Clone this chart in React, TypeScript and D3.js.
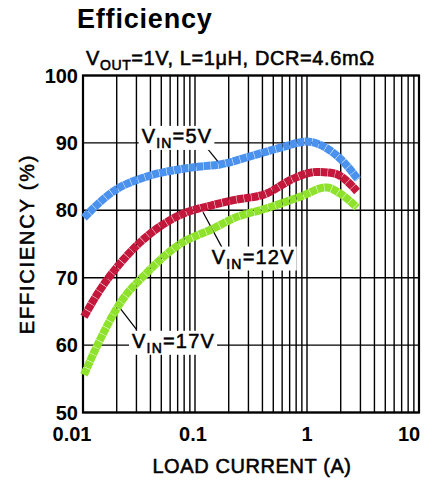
import React, { useLayoutEffect, useRef, useState } from 'react';
import * as d3 from 'd3';

const W = 441;
const H = 481;
const plot = { left: 83, right: 419, top: 75.5, bottom: 412.5 };
const FONT = 'Liberation Sans, Arial, Helvetica, sans-serif';

// load current (A) / efficiency (%)
const cur5 = [0.0102, 0.0186, 0.037, 0.0735, 0.111, 0.167, 0.31, 0.614, 0.99, 1.5, 2.11, 2.85];
const eff5 = [78.9, 82.8, 85.0, 86.1, 86.5, 86.8, 88.0, 89.4, 90.2, 89.2, 87.2, 84.6];

const cur12 = [0.0102, 0.0142, 0.0214, 0.037, 0.0735, 0.146, 0.22, 0.437, 0.755, 1.22, 1.72, 2.8];
const eff12 = [64.2, 68.2, 72.1, 76.1, 79.3, 80.8, 81.5, 82.5, 84.7, 85.7, 85.5, 82.8];

const cur17 = [0.0102, 0.0142, 0.0214, 0.037, 0.0735, 0.146, 0.22, 0.437, 0.866, 1.5, 1.97, 2.8];
const eff17 = [55.6, 60.8, 66.2, 70.7, 75.0, 77.3, 78.8, 80.3, 82.0, 83.4, 82.5, 80.4];

const seriesNames = ['5V', '12V', '17V'];
const seriesColors = ['#4b92ef', '#c3173c', '#8fe22c'];

const xTickValues = [0.01, 0.1, 1, 10];
const xTickLabels = ['0.01', '0.1', '1', '10'];
const xTickShift = [-11, -2, 0, -10];
const yTickValues = [50, 60, 70, 80, 90, 100];

// label anchor (current, eff) and leader line [from, to]
const labelPos = [
  { at: [0.0334, 90.0], lead: [[0.115, 90.2], [0.17, 86.7]] },
  { at: [0.141, 72.1], lead: [[0.118, 79.7], [0.174, 74.5]] },
  { at: [0.0274, 59.6], lead: [[0.0214, 65.5], [0.0301, 62.3]] },
];

const x = d3.scaleLog().domain([0.01, 10]).range([plot.left, plot.right]);
const y = d3.scaleLinear().domain([50, 100]).range([plot.bottom, plot.top]);

const line = d3
  .line<[number, number]>()
  .x((d) => x(d[0]))
  .y((d) => y(d[1]))
  .curve(d3.curveMonotoneX);

// slightly heavier than regular weight, like the original lettering
const semi = { stroke: '#000', strokeWidth: 0.55 };

const VinLabel = ({ px, py, name }: { px: number; py: number; name: string }) => {
  const ref = useRef<SVGTextElement>(null);
  const [box, setBox] = useState<DOMRect | null>(null);
  useLayoutEffect(() => {
    if (ref.current) setBox(ref.current.getBBox());
  }, []);
  return (
    <g>
      {box && (
        <rect x={box.x - 3} y={py - 17} width={box.width + 5} height={24} fill="#fff" />
      )}
      <text ref={ref} x={px} y={py} fontFamily={FONT} fontSize={20} letterSpacing={1.2} fill="#000" {...semi}>
        <tspan>V</tspan>
        <tspan fontSize={14} dy={5}>IN</tspan>
        <tspan dy={-5}>={name}</tspan>
      </text>
    </g>
  );
};

const App = () => {
  const data = [
    d3.zip(cur5, eff5) as [number, number][],
    d3.zip(cur12, eff12) as [number, number][],
    d3.zip(cur17, eff17) as [number, number][],
  ];
  const vGrid = x.ticks();
  return (
    <svg width={W} height={H} style={{ position: 'absolute', left: 0, top: 0, background: '#fff' }}>
      <text x={77} y={28} fontFamily={FONT} fontWeight="bold" fontSize={27} letterSpacing={0.8}>
        Efficiency
      </text>
      <text x={86} y={65} fontFamily={FONT} fontSize={20} letterSpacing={0.6} {...semi}>
        <tspan>V</tspan>
        <tspan fontSize={14} dy={5}>OUT</tspan>
        <tspan dy={-5}>=1V, L=1μH, DCR=4.6mΩ</tspan>
      </text>

      {vGrid.map((t, i) => (
        <line key={'v' + i} x1={x(t)} x2={x(t)} y1={plot.top} y2={plot.bottom} stroke="#000" strokeWidth={1.4} />
      ))}
      {yTickValues.map((t) => (
        <line key={'h' + t} x1={plot.left} x2={plot.right} y1={y(t)} y2={y(t)} stroke="#000" strokeWidth={1.4} />
      ))}
      <rect
        x={plot.left}
        y={plot.top}
        width={plot.right - plot.left}
        height={plot.bottom - plot.top}
        fill="none"
        stroke="#000"
        strokeWidth={2.2}
      />

      {labelPos.map((l, i) => (
        <line
          key={'ld' + i}
          x1={x(l.lead[0][0])}
          y1={y(l.lead[0][1])}
          x2={x(l.lead[1][0])}
          y2={y(l.lead[1][1])}
          stroke="#000"
          strokeWidth={1.2}
        />
      ))}

      {data.map((d, i) => (
        <path
          key={'s' + i}
          d={line(d) || ''}
          fill="none"
          stroke={seriesColors[i]}
          strokeWidth={8}
          strokeDasharray="7 0.45"
        />
      ))}

      {labelPos.map((l, i) => (
        <VinLabel key={'lb' + i} px={x(l.at[0])} py={y(l.at[1])} name={seriesNames[i]} />
      ))}

      {yTickValues.map((t) => (
        <text
          key={'yl' + t}
          x={plot.left - 5}
          y={y(t) + 7}
          textAnchor="end"
          fontFamily={FONT}
          fontWeight="bold"
          fontSize={20}
        >
          {t}
        </text>
      ))}
      {xTickValues.map((t, i) => (
        <text
          key={'xl' + t}
          x={x(t) + xTickShift[i]}
          y={441}
          textAnchor="middle"
          fontFamily={FONT}
          fontWeight="bold"
          fontSize={20}
        >
          {xTickLabels[i]}
        </text>
      ))}

      <text x={252} y={473} textAnchor="middle" fontFamily={FONT} fontSize={20} letterSpacing={0.6} {...semi}>
        LOAD CURRENT (A)
      </text>
      <text
        transform={`translate(34, ${(plot.top + plot.bottom) / 2}) rotate(-90)`}
        textAnchor="middle"
        fontFamily={FONT}
        fontSize={20}
        letterSpacing={1.8}
        {...semi}
      >
        EFFICIENCY (%)
      </text>
    </svg>
  );
};

export default App;
